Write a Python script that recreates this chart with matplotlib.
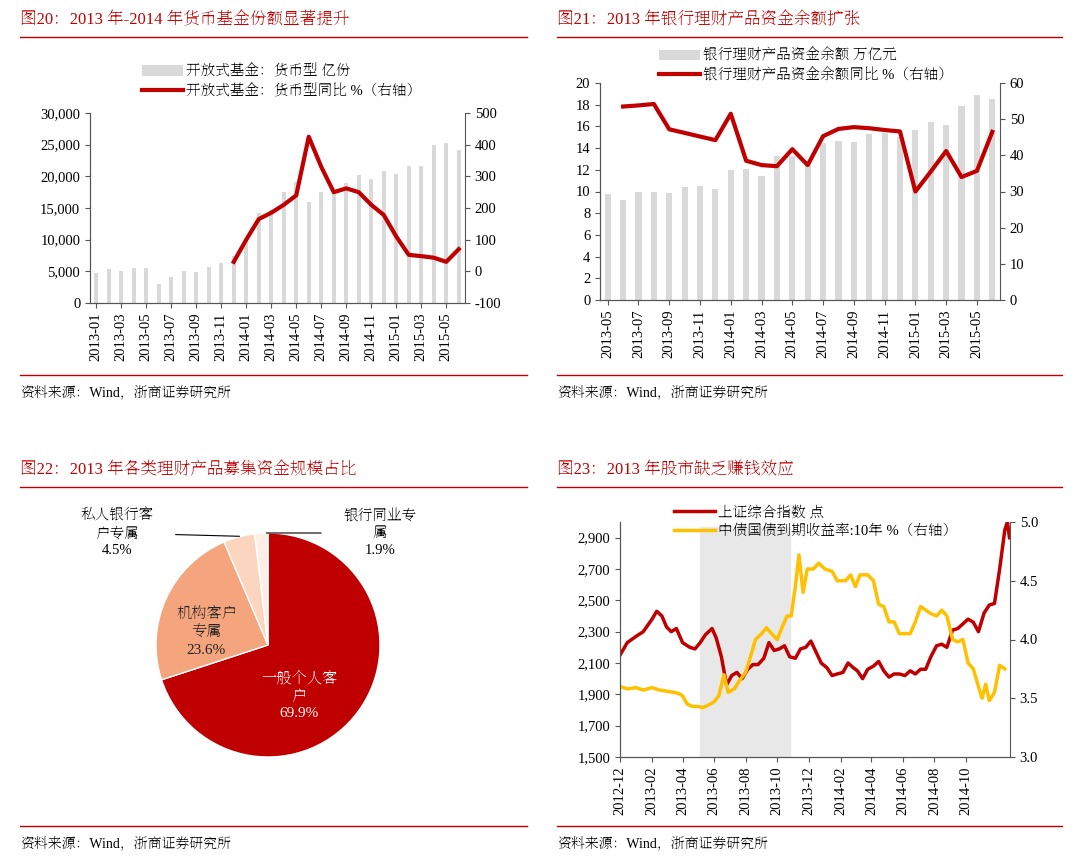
import numpy as np
import pandas as pd
import matplotlib
matplotlib.use("Agg")
import matplotlib.pyplot as plt
from matplotlib.lines import Line2D

plt.rcParams["font.family"] = ["Liberation Serif", "Noto Serif SC", "Noto Serif CJK JP"]
plt.rcParams["font.size"] = 10

RED = "#c00000"
GREY = "#d9d9d9"
W, H = 1080, 867

# ---- fig 20 data
months20 = pd.period_range("2013-01", "2015-06", freq="M").strftime("%Y-%m")
shares20 = [4700, 5300, 5100, 5500, 5600, 3000, 4100, 5000, 4900, 5700, 6300, 7400,
            9800, 14200, 14700, 17500, 19100, 15900, 17500, 17500, 19000, 20200, 19600, 20900,
            20400, 21700, 21700, 25000, 25300, 24200]
yoy20 = [np.nan] * 11 + [30, 100, 165, 185, 210, 240, 425, 330, 250, 262, 250, 210, 178,
                         110, 52, 48, 43, 30, 70]

# ---- fig 21 data
months21 = pd.period_range("2013-05", "2015-06", freq="M").strftime("%Y-%m")
wmp21 = [9.8, 9.2, 10.0, 10.0, 9.9, 10.4, 10.5, 10.2, 12.0, 12.1, 11.4, 13.3, 13.3, 12.7,
         14.5, 14.7, 14.6, 15.3, 15.4, 15.0, 15.7, 16.4, 16.1, 17.9, 18.9, 18.5]
yoy21 = [np.nan, 53.5, 53.8, 54.2, 47.2, 46.2, 45.2, 44.2, 51.5, 38.5, 37.3, 37.0, 41.7, 37.3,
         45.3, 47.3, 47.8, 47.5, 47.0, 46.6, 30.0, 35.5, 41.2, 34.0, 35.7, 46.5]

# ---- fig 22 data
pie_vals = [69.9, 23.6, 4.5, 1.9]
pie_labels = ["一般个人客\n户", "机构客户\n专属", "私人银行客\n户专属", "银行同业专\n属"]
pie_colors = [RED, "#f4a57e", "#fbd5bd", "#fdefe6"]

# ---- fig 23 data
sh_dates = ["2012-12-01", "2012-12-15", "2013-01-01", "2013-01-15", "2013-02-01", "2013-02-10",
            "2013-02-20", "2013-03-01", "2013-03-10", "2013-03-20", "2013-04-01", "2013-04-15",
            "2013-04-25", "2013-05-05", "2013-05-15", "2013-05-28", "2013-06-05", "2013-06-15",
            "2013-06-25", "2013-07-05", "2013-07-15", "2013-07-25", "2013-08-05", "2013-08-15",
            "2013-08-25", "2013-09-05", "2013-09-15", "2013-09-25", "2013-10-05", "2013-10-15",
            "2013-10-25", "2013-11-05", "2013-11-15", "2013-11-25", "2013-12-05", "2013-12-15",
            "2013-12-25", "2014-01-05", "2014-01-15", "2014-01-25", "2014-02-05", "2014-02-15",
            "2014-02-25", "2014-03-05", "2014-03-15", "2014-03-25", "2014-04-05", "2014-04-15",
            "2014-04-25", "2014-05-05", "2014-05-15", "2014-05-25", "2014-06-05", "2014-06-15",
            "2014-06-25", "2014-07-05", "2014-07-15", "2014-07-25", "2014-08-05", "2014-08-15",
            "2014-08-25", "2014-09-05", "2014-09-15", "2014-09-25", "2014-10-05", "2014-10-15",
            "2014-10-25", "2014-11-05", "2014-11-15", "2014-11-25", "2014-12-05", "2014-12-15",
            "2014-12-20", "2014-12-24"]
sh_vals = [2150, 2230, 2270, 2300, 2380, 2430, 2400, 2330, 2300, 2320, 2230, 2200, 2190, 2230,
           2280, 2320, 2260, 2140, 1960, 2020, 2040, 2000, 2060, 2090, 2090, 2130, 2230, 2180,
           2190, 2210, 2140, 2130, 2190, 2200, 2240, 2170, 2100, 2070, 2020, 2030, 2040, 2100,
           2070, 2050, 2000, 2060, 2080, 2110, 2050, 2010, 2030, 2030, 2020, 2050, 2030, 2060,
           2060, 2140, 2210, 2220, 2200, 2310, 2320, 2350, 2380, 2360, 2300, 2420, 2470, 2480,
           2700, 2950, 3000, 2900]
bond_dates = ["2012-12-01", "2012-12-15", "2013-01-01", "2013-01-15", "2013-02-01", "2013-02-15",
              "2013-03-01", "2013-03-15", "2013-03-25", "2013-04-01", "2013-04-10", "2013-04-20",
              "2013-05-01", "2013-05-10", "2013-05-20", "2013-06-01", "2013-06-10", "2013-06-20",
              "2013-06-28", "2013-07-10", "2013-07-20", "2013-08-01", "2013-08-10", "2013-08-20",
              "2013-09-01", "2013-09-10", "2013-09-20", "2013-10-01", "2013-10-10", "2013-10-20",
              "2013-10-28", "2013-11-05", "2013-11-12", "2013-11-20", "2013-11-28", "2013-12-10",
              "2013-12-20", "2014-01-01", "2014-01-15", "2014-01-25", "2014-02-10", "2014-02-20",
              "2014-03-01", "2014-03-10", "2014-03-25", "2014-04-05", "2014-04-15", "2014-04-25",
              "2014-05-05", "2014-05-15", "2014-05-25", "2014-06-05", "2014-06-15", "2014-06-25",
              "2014-07-05", "2014-07-15", "2014-07-25", "2014-08-05", "2014-08-15", "2014-08-25",
              "2014-09-05", "2014-09-15", "2014-09-25", "2014-10-05", "2014-10-15", "2014-10-25",
              "2014-11-01", "2014-11-08", "2014-11-15", "2014-11-25", "2014-12-05", "2014-12-15"]
bond_vals = [3.60, 3.58, 3.59, 3.57, 3.59, 3.57, 3.56, 3.55, 3.54, 3.52, 3.45, 3.43, 3.43, 3.42,
             3.44, 3.47, 3.52, 3.70, 3.55, 3.58, 3.65, 3.72, 3.85, 4.00, 4.05, 4.10, 4.05, 4.00,
             4.10, 4.20, 4.20, 4.45, 4.72, 4.40, 4.60, 4.60, 4.65, 4.60, 4.58, 4.50, 4.50, 4.55,
             4.45, 4.55, 4.55, 4.50, 4.30, 4.28, 4.15, 4.15, 4.05, 4.05, 4.05, 4.15, 4.28, 4.25,
             4.22, 4.20, 4.25, 4.20, 4.00, 3.98, 4.00, 3.80, 3.75, 3.60, 3.50, 3.62, 3.48, 3.55,
             3.78, 3.75]


def box(x0, y0, x1, y1):
    return [x0 / W, 1 - y1 / H, (x1 - x0) / W, (y1 - y0) / H]


fig = plt.figure(figsize=(10.8, 8.67), dpi=100)


def frame(x0, x1, ytitle, yfoot, title):
    fig.text(x0 / W, 1 - ytitle / H, title, color=RED, fontsize=12, va="center")
    fig.add_artist(Line2D([x0 / W, x1 / W], [1 - (ytitle + 17) / H] * 2, color=RED, lw=1))
    fig.add_artist(Line2D([x0 / W, x1 / W], [1 - yfoot / H] * 2, color=RED, lw=1))
    fig.text(x0 / W, 1 - (yfoot + 18) / H, "资料来源：Wind，浙商证券研究所", fontsize=10, va="center")


frame(20, 527, 20, 375, "图20：2013 年-2014 年货币基金份额显著提升")
frame(557, 1062, 20, 375, "图21：2013 年银行理财产品资金余额扩张")
frame(20, 527, 470, 826, "图22：2013 年各类理财产品募集资金规模占比")
frame(557, 1062, 470, 826, "图23：2013 年股市缺乏赚钱效应")


def style(ax, ax2):
    for a in (ax, ax2):
        a.spines["top"].set_visible(False)
        for s in ["left", "right", "bottom"]:
            a.spines[s].set_color("#555555")
        a.tick_params(labelsize=10.5, direction="out", color="#555555")
    ax.spines["right"].set_visible(False)


def legend(ax, ax2, anchor):
    h1, l1 = ax.get_legend_handles_labels()
    h2, l2 = ax2.get_legend_handles_labels()
    ax.legend(h1 + h2, l1 + l2, loc="lower left", bbox_to_anchor=anchor, frameon=False,
              fontsize=10.5, handlelength=2.8, borderpad=0, labelspacing=0.35,
              handletextpad=0.2)


# ---- fig 20
x = np.arange(len(months20))
ax = fig.add_axes(box(90, 113, 465, 303))
ax2 = ax.twinx()
ax.bar(x, shares20, width=0.35, color=GREY, label="开放式基金：货币型 亿份")
ax2.plot(x, yoy20, color=RED, lw=3, label="开放式基金：货币型同比 %（右轴）")
ax.set_ylim(0, 30000)
ax.set_yticks(range(0, 30001, 5000))
ax.set_yticklabels([f"{v:,}" for v in range(0, 30001, 5000)])
ax2.set_ylim(-100, 500)
ax2.set_yticks(range(-100, 501, 100))
ax2.set_yticklabels([str(v) for v in range(-100, 501, 100)])
ax.set_xlim(-0.5, len(x) - 0.5)
ax.set_xticks(x[::2])
ax.set_xticklabels(months20[::2], rotation=90)
style(ax, ax2)
legend(ax, ax2, (0.12, 1.04))

# ---- fig 21
x = np.arange(len(months21))
ax = fig.add_axes(box(600, 83, 1000, 300))
ax2 = ax.twinx()
ax.bar(x, wmp21, width=0.4, color=GREY, label="银行理财产品资金余额 万亿元")
ax2.plot(x, yoy21, color=RED, lw=3, label="银行理财产品资金余额同比 %（右轴）")
ax.set_ylim(0, 20)
ax.set_yticks(range(0, 21, 2))
ax2.set_ylim(0, 60)
ax2.set_yticks(range(0, 61, 10))
ax.set_xlim(-0.5, len(x) - 0.5)
ax.set_xticks(x[::2])
ax.set_xticklabels(months21[::2], rotation=90)
style(ax, ax2)
legend(ax, ax2, (0.13, 0.97))

# ---- fig 22
axp = fig.add_axes(box(156, 533, 380, 757))
axp.pie(pie_vals, colors=pie_colors, startangle=90, counterclock=False,
        wedgeprops=dict(edgecolor="white", linewidth=1))
axp.set_xlim(-1, 1)
axp.set_ylim(-1, 1)
axp.set_aspect("equal")
axp.text(0.28, -0.45, f"{pie_labels[0]}\n{pie_vals[0]}%", color="white", ha="center",
         va="center", fontsize=11, linespacing=1.4)
axp.text(-0.55, 0.12, f"{pie_labels[1]}\n{pie_vals[1]}%", color="#222222", ha="center",
         va="center", fontsize=11, linespacing=1.4)
axp.annotate(f"{pie_labels[2]}\n{pie_vals[2]}%", xy=(-0.23, 0.97), xytext=(-1.35, 1.0),
             ha="center", va="center", fontsize=10.5, linespacing=1.4,
             arrowprops=dict(arrowstyle="-", color="black", lw=0.8, shrinkA=14))
axp.annotate(f"{pie_labels[3]}\n{pie_vals[3]}%", xy=(-0.04, 1.0), xytext=(1.0, 1.0),
             ha="center", va="center", fontsize=10.5, linespacing=1.4,
             arrowprops=dict(arrowstyle="-", color="black", lw=0.8, shrinkA=14))

# ---- fig 23
ax = fig.add_axes(box(620, 522, 1010, 757))
ax2 = ax.twinx()
ax.axvspan(pd.Timestamp("2013-05-05"), pd.Timestamp("2013-10-25"), ymax=0.98,
           color="#e8e8e8", zorder=0)
ax.plot(pd.to_datetime(sh_dates), sh_vals, color=RED, lw=2.5, label="上证综合指数 点")
ax2.plot(pd.to_datetime(bond_dates), bond_vals, color="#ffc000", lw=2.5,
         label="中债国债到期收益率:10年 %（右轴）")
ax.set_ylim(1500, 3000)
ax.set_yticks(range(1500, 3000, 200))
ax.set_yticklabels([f"{v:,}" for v in range(1500, 3000, 200)])
ax2.set_ylim(3.0, 5.0)
ax2.set_yticks([3.0, 3.5, 4.0, 4.5, 5.0])
ax2.set_yticklabels(["3.0", "3.5", "4.0", "4.5", "5.0"])
ax.set_xlim(pd.Timestamp("2012-12-01"), pd.Timestamp("2014-12-25"))
ticks = pd.date_range("2012-12-01", "2014-10-01", freq="2MS")
ax.set_xticks(ticks)
ax.set_xticklabels(ticks.strftime("%Y-%m"), rotation=90)
style(ax, ax2)
legend(ax, ax2, (0.12, 0.9))

fig.savefig("out.png", dpi=100)
